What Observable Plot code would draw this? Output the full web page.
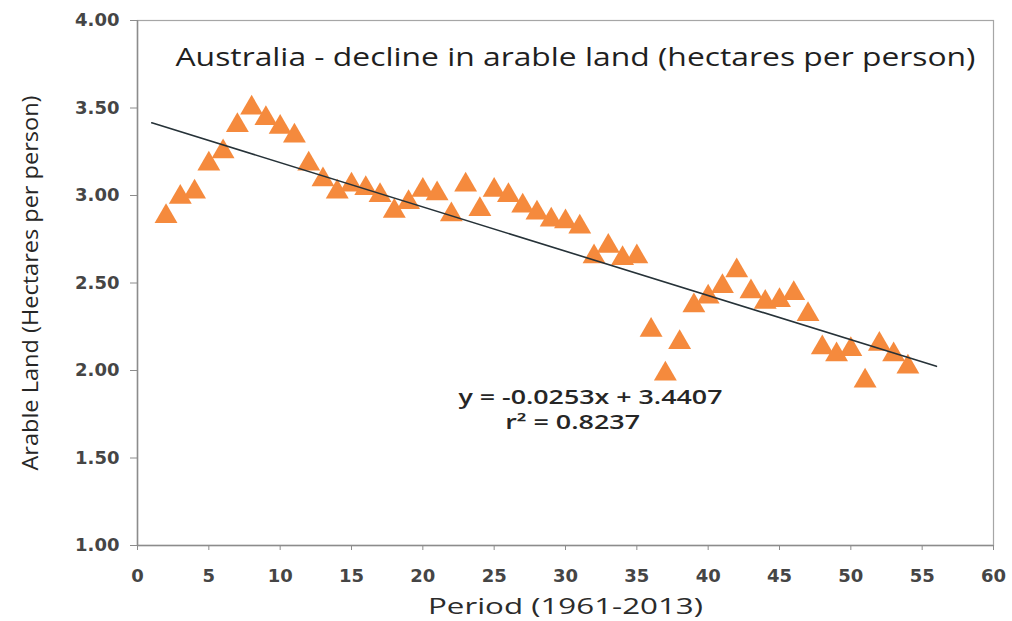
<!DOCTYPE html>
<html>
<head>
<meta charset="utf-8">
<script src="https://cdn.jsdelivr.net/npm/d3@7"></script>
<script src="https://cdn.jsdelivr.net/npm/@observablehq/plot@0.6"></script>
<style>
  html, body { margin: 0; padding: 0; background: #fff; }
  #chart svg { display: block; }
</style>
</head>
<body>
<div id="chart"></div>
<script>
// Period index (source plots the 53 years 1961-2013 as periods 2..54)
const periods = [2,3,4,5,6,7,8,9,10,11,12,13,14,15,16,17,18,19,20,21,22,23,24,25,26,27,28,29,30,31,32,33,34,35,36,37,38,39,40,41,42,43,44,45,46,47,48,49,50,51,52,53,54];
const arableLand = [2.88,2.99,3.02,3.18,3.25,3.40,3.50,3.44,3.39,3.34,3.18,3.09,3.02,3.06,3.04,3.00,2.91,2.96,3.03,3.01,2.89,3.06,2.92,3.03,3.00,2.94,2.90,2.86,2.85,2.82,2.65,2.71,2.64,2.65,2.23,1.98,2.16,2.37,2.42,2.48,2.57,2.45,2.39,2.40,2.44,2.32,2.13,2.09,2.12,1.94,2.15,2.09,2.02];

// Trendline (from the published equation)
const trendSlope = -0.0253;
const trendIntercept = 3.4407;
const trendRange = [1, 56];

const xTicks = [0,5,10,15,20,25,30,35,40,45,50,55,60];
const yTicks = [1,1.5,2,2.5,3,3.5,4];

const titleText = "Australia - decline in arable land (hectares per person)";
const xLabel = "Period (1961-2013)";
const yLabel = "Arable Land (Hectares per person)";
const equationText = ["y = -0.0253x + 3.4407", "r² = 0.8237"];
const equationX = [31.75, 30.5];
const equationY = [1.842, 1.70];

const points = periods.map((p, i) => ({x: p, y: arableLand[i]}));
const trend = trendRange.map(x => ({x, y: trendSlope * x + trendIntercept}));
const equations = equationText.map((t, i) => ({x: equationX[i], y: equationY[i], text: t}));

const font = "'Open Sans', 'DejaVu Sans', sans-serif";
const tickFont = "'DejaVu Sans', 'Open Sans', sans-serif";

const chart = Plot.plot({
  width: 1012,
  height: 621,
  marginLeft: 137,
  marginRight: 19,
  marginTop: 20,
  marginBottom: 76,
  style: {fontFamily: font, background: "#fff", overflow: "visible"},
  x: {domain: [0, 60], ticks: xTicks, tickFormat: d => d, label: null},
  y: {domain: [1, 4], ticks: yTicks, tickFormat: d3.format(".2f"), label: null},
  marks: [
    Plot.frame({stroke: "#a6a6a6", strokeWidth: 1.2}),
    Plot.axisX({ticks: xTicks, tickFormat: d => d, tickSize: 5, tickPadding: 19, fontSize: 18, fontWeight: "bold", fontFamily: tickFont, fill: "#454545", stroke: "#8c8c8c", label: null}),
    Plot.axisY({ticks: yTicks, tickFormat: d3.format(".2f"), tickSize: 7, tickPadding: 11, fontSize: 18, fontWeight: "bold", fontFamily: tickFont, fill: "#454545", stroke: "#8c8c8c", label: null}),
    Plot.ruleX([0], {stroke: "#8c8c8c", strokeWidth: 1.5}),
    Plot.ruleY([1], {stroke: "#8c8c8c", strokeWidth: 1.5}),
    Plot.dot(points, {x: "x", y: "y", symbol: "triangle", r: 8.5, fill: "#f58a3d", stroke: "none"}),
    Plot.line(trend, {x: "x", y: "y", stroke: "#263238", strokeWidth: 1.6}),
    Plot.text(equations, {x: "x", y: "y", text: "text", fontSize: 19, fontWeight: 600, fill: "#262626"}),
    Plot.text([titleText], {frameAnchor: "top", lineAnchor: "middle", dy: 37, dx: 10, fontSize: 26, fill: "#1f1f1f", fontWeight: 500}),
    Plot.text([xLabel], {frameAnchor: "bottom", lineAnchor: "middle", dy: 61, fontSize: 22, fill: "#2b2b2b", fontWeight: 500}),
    Plot.text([yLabel], {frameAnchor: "left", textAnchor: "middle", dx: -107, rotate: -90, fontSize: 22, fill: "#262626"})
  ]
});

// stretch text runs to the widths they occupy in the reference
const fits = new Map([[titleText, 800], [xLabel, 275], [yLabel, 375], [equationText[0], 264], [equationText[1], 135]]);
chart.querySelectorAll("text").forEach(t => {
  const w = fits.get(t.textContent);
  if (w) { t.setAttribute("textLength", w); t.setAttribute("lengthAdjust", "spacingAndGlyphs"); }
});
document.getElementById("chart").appendChild(chart);
</script>
</body>
</html>
